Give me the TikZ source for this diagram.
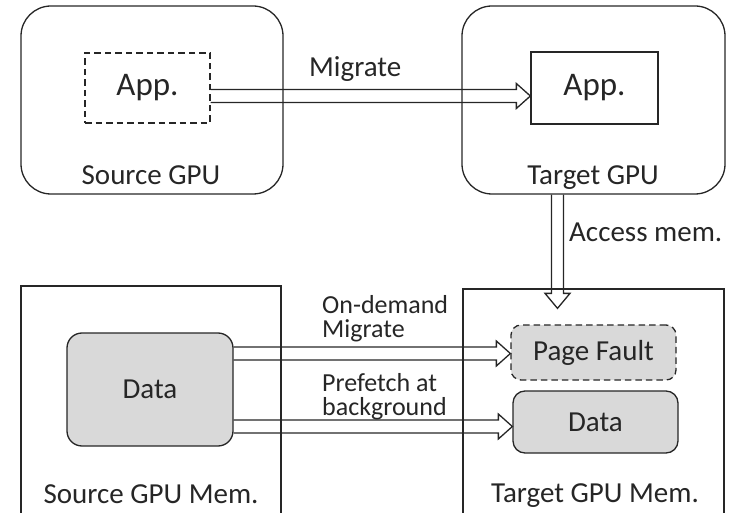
\documentclass[tikz,border=0pt]{standalone}
\usepackage{fontspec}
\setmainfont{Carlito}
\usetikzlibrary{calc}
\definecolor{ink}{HTML}{262626}
\definecolor{shade}{HTML}{D9D9D9}
\tikzset{
  outline/.style={draw=ink, line width=1.3pt, inner sep=0pt, text=ink},
  gpubox/.style={outline, rounded corners=30pt},
  membox/.style={outline},
  appbox/.style={outline, font=\fontsize{33pt}{36pt}\selectfont},
  databox/.style={outline, fill=shade, rounded corners=13pt, font=\fontsize{29pt}{33pt}\selectfont},
  caption/.style={text=ink, inner sep=0pt, font=\fontsize{29pt}{33pt}\selectfont},
  note/.style={text=ink, inner sep=0pt, align=left, font=\fontsize{26pt}{24pt}\selectfont},
  hollow/.style={draw=ink, line width=1.3pt, line join=miter},
  dashes/.style={dash pattern=on 6.5pt off 4pt}
}
% open block arrow pointing right, drawn from #1 to the x of #2
\newcommand\hollowright[2]{%
  \draw[hollow] let \p1=(#1), \p2=(#2) in
    (\x1,\y1+6.5pt) -- (\x2-14pt,\y1+6.5pt) -- (\x2-14pt,\y1+12.5pt) -- (\x2,\y1)
    -- (\x2-14pt,\y1-12.5pt) -- (\x2-14pt,\y1-6.5pt) -- (\x1,\y1-6.5pt);}
% open block arrow pointing down, drawn from #1 to the y of #2
\newcommand\hollowdown[2]{%
  \draw[hollow] let \p1=(#1), \p2=(#2) in
    (\x1-6pt,\y1) -- (\x1-6pt,\y2+15pt) -- (\x1-12.5pt,\y2+15pt) -- (\x1,\y2)
    -- (\x1+12.5pt,\y2+15pt) -- (\x1+6pt,\y2+15pt) -- (\x1+6pt,\y1);}
\begin{document}
\begin{tikzpicture}[x=1pt, y=-1pt]
\useasboundingbox (0,0) rectangle (739,513);

% GPUs
\node[gpubox, minimum width=262pt, minimum height=188pt] (srcgpu) at (152,100) {};
\node[gpubox, minimum width=263pt, minimum height=188pt] (tgtgpu) at (593.5,100) {};
\node[appbox, dashes, minimum width=125pt, minimum height=70pt] (appS) at (147.5,88) {App.};
\node[appbox, minimum width=127pt, minimum height=72pt] (appT) at (594.5,88) {App.};
\node[caption, anchor=base] (srcgpulbl) at (151,185) {Source GPU};
\node[caption, anchor=base] (tgtgpulbl) at (593,185) {Target GPU};

% memories
\node[membox, minimum width=260pt, minimum height=244pt] (srcmem) at (151,408) {};
\node[membox, minimum width=261pt, minimum height=241pt] (tgtmem) at (593.5,409.5) {};
\node[databox, minimum width=166pt, minimum height=113pt, rounded corners=15pt] (dataS) at (150,389.5) {Data};
\node[databox, dashes, minimum width=165pt, minimum height=55pt, rounded corners=10pt] (fault) at (593.5,352.5) {Page Fault};
\node[databox, minimum width=165pt, minimum height=62pt, rounded corners=12pt] (dataT) at (595.5,422) {Data};
\node[caption, anchor=base] (srcmemlbl) at (151,503) {Source GPU Mem.};
\node[caption, anchor=base] (tgtmemlbl) at (595,502) {Target GPU Mem.};

% transfers
\hollowright{$(appS.east)+(0,8)$}{appT.west}
\node[caption, anchor=base west] (miglbl) at (309,77) {Migrate};

\coordinate (acctip) at ($(tgtmem.north)+(-36,20)$);
\hollowdown{$(tgtgpu.south)+(-36,0)$}{acctip}
\node[caption, anchor=base west] (acclbl) at (569,242) {Access mem.};

\hollowright{$(dataS.east)+(0,-36)$}{fault.west}
\node[note, anchor=north west] (odlbl) at (322,295) {On-demand\\Migrate};

\hollowright{$(dataS.east)+(0,37)$}{dataT.west}
\node[note, anchor=north west] (pflbl) at (322,373) {Prefetch at\\background};
\end{tikzpicture}
\end{document}
